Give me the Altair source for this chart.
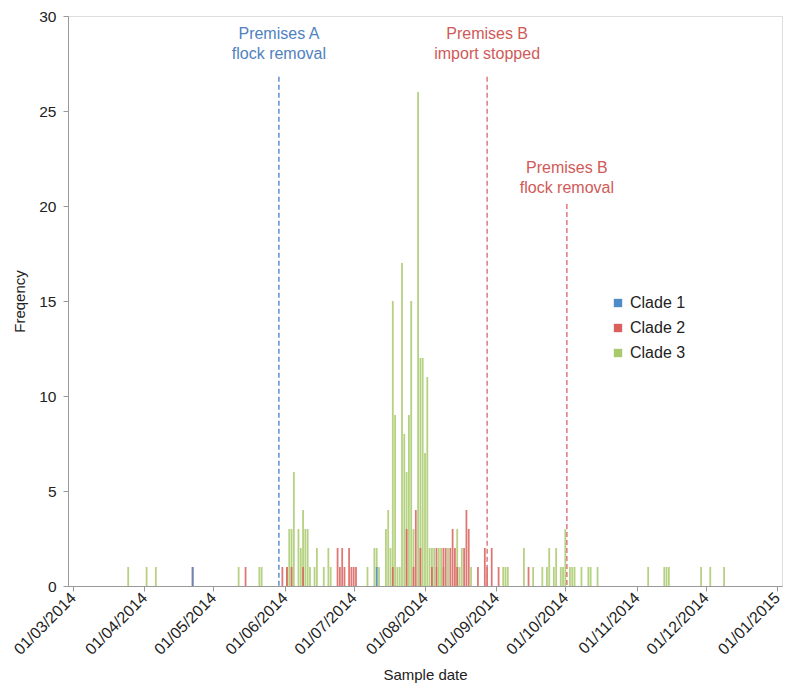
import altair as alt
import pandas as pd

# ---- data ----
clade1_dates = ["2014-04-22", "2014-07-11"]
clade1_counts = [1, 1]

clade2_dates = ["2014-04-22", "2014-05-15", "2014-05-31", "2014-06-02", "2014-06-04", "2014-06-09",
                "2014-06-24", "2014-06-25", "2014-06-26", "2014-06-27", "2014-06-29", "2014-06-30",
                "2014-07-01", "2014-07-02", "2014-07-18", "2014-07-24", "2014-07-27", "2014-07-28",
                "2014-07-30", "2014-08-04", "2014-08-06", "2014-08-09", "2014-08-10", "2014-08-12",
                "2014-08-13", "2014-08-14", "2014-08-15", "2014-08-18", "2014-08-19", "2014-08-20",
                "2014-08-24", "2014-08-27", "2014-08-28", "2014-08-30", "2014-09-02", "2014-09-15"]
clade2_counts = [1, 1, 1, 1, 1, 1,
                 2, 1, 2, 1, 2, 1,
                 1, 1, 1, 3, 1, 4,
                 2, 1, 2, 2, 2, 2,
                 3, 2, 1, 2, 4, 3,
                 1, 2, 1, 2, 1, 1]

clade3_dates = ["2014-03-25", "2014-04-02", "2014-04-06", "2014-05-12", "2014-05-21", "2014-05-22",
                "2014-06-02", "2014-06-03", "2014-06-04", "2014-06-05", "2014-06-07", "2014-06-08",
                "2014-06-09", "2014-06-10", "2014-06-11", "2014-06-12", "2014-06-14", "2014-06-15",
                "2014-06-18", "2014-06-20", "2014-06-21", "2014-07-07", "2014-07-10", "2014-07-11",
                "2014-07-12", "2014-07-15", "2014-07-16", "2014-07-17", "2014-07-18", "2014-07-19",
                "2014-07-20", "2014-07-21", "2014-07-22", "2014-07-23", "2014-07-24", "2014-07-25",
                "2014-07-26", "2014-07-27", "2014-07-29", "2014-07-30", "2014-07-31", "2014-08-01",
                "2014-08-02", "2014-08-03", "2014-08-04", "2014-08-05", "2014-08-06", "2014-08-07",
                "2014-08-08", "2014-08-09", "2014-08-11", "2014-08-15", "2014-08-16", "2014-08-17",
                "2014-08-21", "2014-09-04", "2014-09-05", "2014-09-06", "2014-09-13", "2014-09-17",
                "2014-09-21", "2014-09-23", "2014-09-24", "2014-09-26", "2014-09-27", "2014-09-29",
                "2014-09-30", "2014-10-01", "2014-10-03", "2014-10-04", "2014-10-05", "2014-10-08",
                "2014-10-11", "2014-10-12", "2014-10-15", "2014-11-06", "2014-11-13", "2014-11-14",
                "2014-11-15", "2014-11-29", "2014-12-03", "2014-12-09"]
clade3_counts = [1, 1, 1, 1, 1, 1,
                 1, 3, 3, 6, 3, 2,
                 4, 3, 3, 1, 1, 2,
                 1, 2, 1, 1, 2, 2,
                 1, 3, 4, 2, 15, 9,
                 1, 1, 17, 8, 6, 9,
                 15, 3, 26, 12, 12, 7,
                 11, 2, 2, 2, 1, 2,
                 2, 1, 2, 3, 1, 2,
                 1, 1, 1, 1, 2, 1,
                 1, 1, 2, 1, 2, 1,
                 1, 3, 1, 1, 1, 1,
                 1, 1, 1, 1, 1, 1,
                 1, 1, 1, 1]

clade_names = ["Clade 1", "Clade 2", "Clade 3"]
clade_colors = ["#4f8ac9", "#d9605c", "#a8c96c"]

event_dates = ["2014-05-29T12:00:00", "2014-08-28T00:00:00", "2014-10-01T16:00:00"]
event_tops = [26.8, 26.8, 20.1]
event_label_y = [29.45, 29.45, 22.4]
event_labels = ["Premises A\nflock removal", "Premises B\nimport stopped", "Premises B\nflock removal"]
event_line_colors = ["#5b8fd2", "#e07a7a", "#e07a7a"]
event_text_colors = ["#4f82c0", "#d05a58", "#d05a58"]

month_ticks = [(2014, m) for m in range(3, 13)] + [(2015, 1)]

# ---- tables ----
rows = []
for name, dates, counts in [("Clade 3", clade3_dates, clade3_counts),
                            ("Clade 2", clade2_dates, clade2_counts),
                            ("Clade 1", clade1_dates, clade1_counts)]:
    for d, c in zip(dates, counts):
        rows.append({"date": d + "T00:00:00", "count": c, "clade": name})
df = pd.DataFrame(rows)

ev = pd.DataFrame({
    "date": event_dates,
    "top": event_tops,
    "ly": event_label_y,
    "label": event_labels,
    "lcolor": event_line_colors,
    "tcolor": event_text_colors,
})

FONT = "Liberation Sans"

x_scale = alt.Scale(domain=[alt.DateTime(year=2014, month=3, date=1),
                            alt.DateTime(year=2015, month=1, date=1)], nice=False)
y_scale = alt.Scale(domain=[0, 30], nice=False)

x_axis = alt.Axis(
    values=[alt.DateTime(year=y, month=m, date=1) for y, m in month_ticks],
    format="%d/%m/%Y", labelAngle=-45, labelAlign="right", labelBaseline="middle",
    labelFontSize=16, labelColor="#222222", labelFont=FONT, labelPadding=4,
    tickSize=5, tickColor="#999999", domainColor="#999999", grid=False,
    title="Sample date", titleFont=FONT, titleFontSize=15, titleFontWeight="normal",
    titleColor="#222222", titlePadding=10, labelOverlap=False, labelFlush=False,
)
y_axis = alt.Axis(
    values=[0, 5, 10, 15, 20, 25, 30], labelFontSize=15.5, labelColor="#222222", labelFont=FONT,
    tickSize=5, tickColor="#999999", domainColor="#999999", grid=False, labelPadding=7,
    title="Freqency", titleFont=FONT, titleFontSize=15, titleFontWeight="normal",
    titleColor="#222222", titlePadding=11,
)

bars = alt.Chart(df).mark_bar(size=1.8, opacity=0.85).encode(
    x=alt.X("date:T", scale=x_scale, axis=x_axis),
    y=alt.Y("count:Q", scale=y_scale, axis=y_axis, stack=None),
    color=alt.Color("clade:N", scale=alt.Scale(domain=clade_names, range=clade_colors),
                    legend=alt.Legend(title=None, orient="none", legendX=542, legendY=279,
                                      symbolType="square", symbolSize=70, labelFontSize=16,
                                      labelFont=FONT, labelColor="#222222", rowPadding=9,
                                      symbolStrokeWidth=0, symbolOpacity=1)),
)

rules = alt.Chart(ev).mark_rule(strokeDash=[5, 3], strokeWidth=1.5).encode(
    x=alt.X("date:T", scale=x_scale),
    y=alt.Y("top:Q", scale=y_scale),
    y2=alt.datum(0),
    color=alt.Color("lcolor:N", scale=None),
)

texts = alt.Chart(ev).mark_text(lineBreak="\n", baseline="top", align="center",
                                fontSize=16, font=FONT, lineHeight=20).encode(
    x=alt.X("date:T", scale=x_scale),
    y=alt.Y("ly:Q", scale=y_scale),
    text="label:N",
    color=alt.Color("tcolor:N", scale=None),
)

chart = alt.layer(bars, rules, texts).properties(
    width=714, height=570, autosize="none",
    padding={"left": 60, "top": 8, "right": 5, "bottom": 102},
).configure_view(stroke=None).configure(background="white")

chart.save("out.html", embed_options={"renderer": "svg", "actions": False})
